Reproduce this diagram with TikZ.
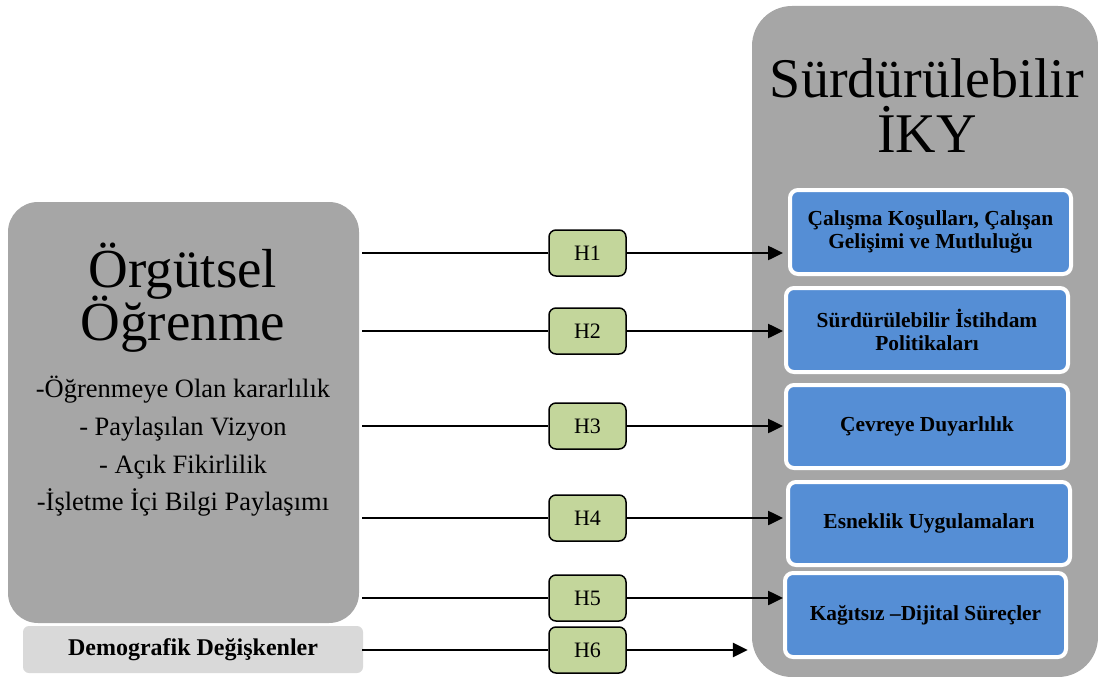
\documentclass[tikz,border=0pt]{standalone}
\usepackage{fontspec}
\setmainfont{Liberation Serif}
\usetikzlibrary{arrows.meta}
\definecolor{boxgray}{HTML}{A6A6A6}
\definecolor{lightgray2}{HTML}{D9D9D9}
\definecolor{hgreen}{HTML}{C3D69B}
\definecolor{dimblue}{HTML}{558ED5}
\tikzset{
  bigbox/.style={draw=none, fill=boxgray, rounded corners=#1, inner sep=0pt},
  bluebox/.style={draw=white, line width=4pt, fill=dimblue, rounded corners=8pt,
    minimum width=281pt, minimum height=84pt, inner sep=0pt, align=center,
    font=\bfseries\fontsize{21.4}{22.5}\selectfont},
  hbox/.style={draw=black, line width=1.5pt, fill=hgreen, rounded corners=7pt,
    minimum width=77pt, minimum height=46pt, inner sep=0pt,
    font=\fontsize{22}{24}\selectfont},
  inline/.style={line width=1.5pt},
  outline/.style={line width=2.5pt, -{Triangle[length=15pt,width=14pt]}},
}
\begin{document}
\begin{tikzpicture}[x=1pt,y=-1pt]
\useasboundingbox (0,0) rectangle (1098,677);
% right container
\node[bigbox=40pt, minimum width=346pt, minimum height=671pt] (R) at (925,341.5) {};
\node[anchor=base, font=\fontsize{56}{54}\selectfont] (rt1) at (927,98) {Sürdürülebilir};
\node[anchor=base, font=\fontsize{56}{54}\selectfont] (rt2) at (927,152) {İKY};
% blue boxes
\node[bluebox] (b1) at (930.5,232) {Çalışma Koşulları, Çalışan\\Gelişimi ve Mutluluğu};
\node[bluebox, minimum width=282pt] (b2) at (927,330) {Sürdürülebilir İstihdam\\Politikaları};
\node[bluebox, minimum width=282pt, minimum height=83pt] (b3) at (927,426.5) {Çevreye Duyarlılık};
\node[bluebox, minimum width=282pt, minimum height=83pt] (b4) at (929,523.5) {Esneklik Uygulamaları};
\node[bluebox, minimum width=281pt] (b5) at (925.5,615) {Kağıtsız –Dijital Süreçler};
% left box
\node[bigbox=30pt, minimum width=351pt, minimum height=421pt] (L) at (183.5,412.5) {};
\node[anchor=base, font=\fontsize{55}{53}\selectfont] (lt1) at (183,287) {Örgütsel};
\node[anchor=base, font=\fontsize{55}{53}\selectfont] (lt2) at (183,340) {Öğrenme};
\node[anchor=base, font=\fontsize{26.5}{38}\selectfont] (l1) at (183,397) {-Öğrenmeye Olan kararlılık};
\node[anchor=base, font=\fontsize{26.5}{38}\selectfont] (l2) at (183,435) {- Paylaşılan Vizyon};
\node[anchor=base, font=\fontsize{26.5}{38}\selectfont] (l3) at (183,473) {- Açık Fikirlilik};
\node[anchor=base, font=\fontsize{26.5}{38}\selectfont] (l4) at (183,510) {-İşletme İçi Bilgi Paylaşımı};
% demographic box
\node[fill=lightgray2, rounded corners=6pt, minimum width=340pt, minimum height=47pt, inner sep=0pt,
  font=\bfseries\fontsize{24}{25}\selectfont] (D) at (193,649.5) {Demografik Değişkenler};
% H boxes
\node[hbox] (H1) at (587.5,253) {H1};
\node[hbox] (H2) at (587.5,331) {H2};
\node[hbox] (H3) at (587.5,426) {H3};
\node[hbox] (H4) at (587.5,518) {H4};
\node[hbox] (H5) at (587.5,598) {H5};
\node[hbox] (H6) at (587.5,650) {H6};
% start points
\coordinate (s1) at (362,253);
\coordinate (s2) at (362,331);
\coordinate (s3) at (362,426);
\coordinate (s4) at (362,518);
\coordinate (s5) at (362,598);
\coordinate (s6) at (362,650);
% connectors
\draw[inline] (s1) -- (H1.west);
\draw[inline] (s2) -- (H2.west);
\draw[inline] (s3) -- (H3.west);
\draw[inline] (s4) -- (H4.west);
\draw[inline] (s5) -- (H5.west);
\draw[inline] (s6) -- (H6.west);
\draw[outline, shorten >=5pt] (H1.east) -- (H1.east -| b1.west);
\draw[outline, shorten >=1pt] (H2.east) -- (H2.east -| b2.west);
\draw[outline, shorten >=1pt] (H3.east) -- (H3.east -| b3.west);
\draw[outline, shorten >=3pt] (H4.east) -- (H4.east -| b4.west);
\draw[outline, shorten >=0pt] (H5.east) -- (H5.east -| b5.west);
\draw[outline, shorten >=4pt] (H6.east) -- (H6.east -| R.west);
\end{tikzpicture}
\end{document}
